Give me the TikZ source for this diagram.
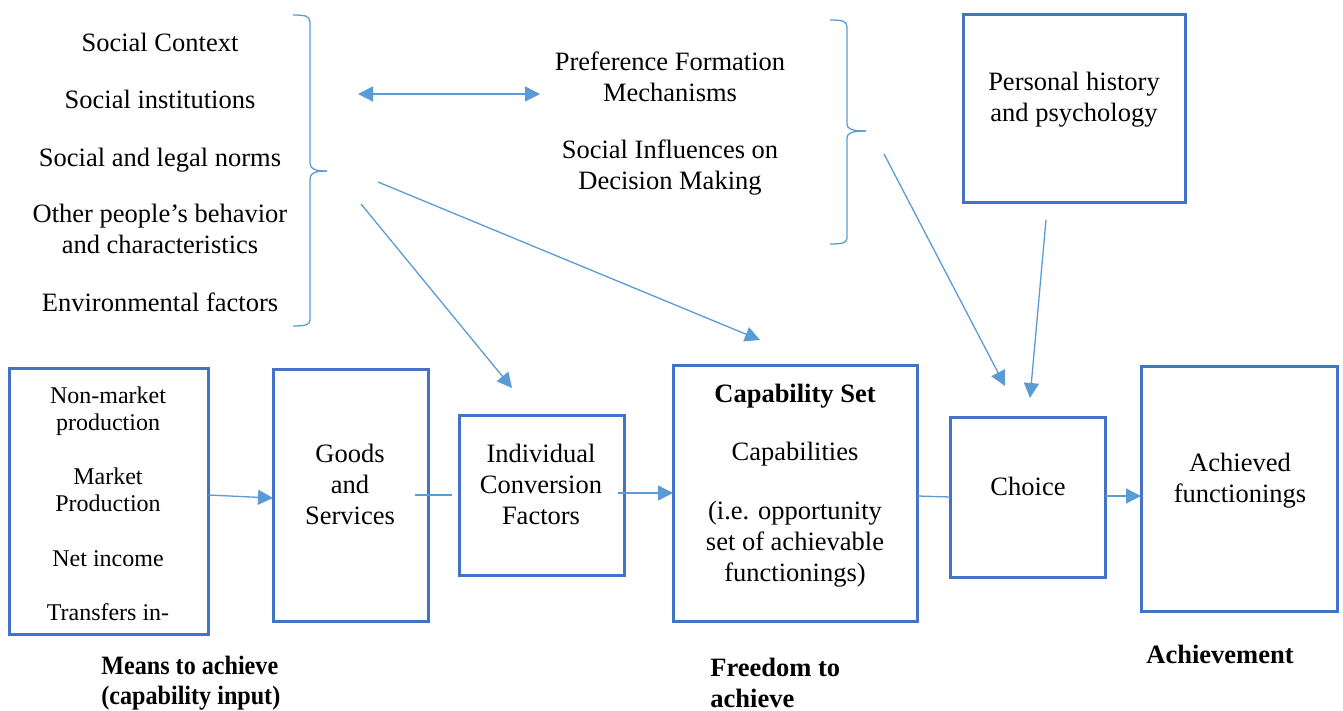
\documentclass[tikz,border=0pt]{standalone}
\usepackage{fontspec}
\setmainfont{Liberation Serif}
\usetikzlibrary{arrows.meta,fit}
\definecolor{boxblue}{HTML}{4472C4}
\definecolor{lineblue}{HTML}{5B9BD5}
% Multi-line nodes are placed by the baseline of their last line.
\tikzset{
  box/.style={draw=boxblue, line width=1.5pt, inner sep=0pt},
  txt/.style={align=center, anchor=base, inner sep=0pt,
    font=\fontsize{13.25pt}{15.5pt}\selectfont},
  smalltxt/.style={align=center, anchor=base, inner sep=0pt,
    font=\fontsize{12pt}{13.5pt}\selectfont},
  boldtxt/.style={align=left, anchor=base west, inner sep=0pt,
    font=\fontsize{13.25pt}{15pt}\selectfont\bfseries},
  conn/.style={draw=lineblue, line width=0.65pt},
  arr/.style={conn, -{Triangle[length=7.5pt,width=7.5pt]}},
  dblarr/.style={conn, {Triangle[length=7.5pt,width=7.5pt]}-{Triangle[length=7.5pt,width=7.5pt]}},
  bracepath/.style={draw=lineblue, line width=0.65pt}
}
\begin{document}
\begin{tikzpicture}[x=0.5pt,y=-0.5pt]
\useasboundingbox (0,0) rectangle (1343,711);

% Social context list
\node[txt] (sc) at (160,52) {Social Context};
\node[txt] (si) at (160,109) {Social institutions};
\node[txt] (sn) at (160,167) {Social and legal norms};
\node[txt] (op) at (160,254) {Other people’s behavior\\and characteristics};
\node[txt] (ef) at (160,311) {Environmental factors};

% Left brace
\draw[bracepath] (293,15) .. controls (305,15) and (310,16) .. (310,22) -- (310,163)
  .. controls (310,169) and (315,171) .. (327,171);
\draw[bracepath] (327,171) .. controls (315,171) and (310,173) .. (310,179) -- (310,320)
  .. controls (310,325) and (305,326) .. (293,326);

% Mechanisms
\node[txt] (pf) at (670,102) {Preference Formation\\Mechanisms};
\node[txt] (sd) at (670,190) {Social Influences on\\Decision Making};

% Right brace
\draw[bracepath] (830,20) .. controls (842,20) and (847,21) .. (847,27) -- (847,124)
  .. controls (847,129) and (852,131) .. (866,131);
\draw[bracepath] (866,131) .. controls (852,131) and (847,133) .. (847,138) -- (847,238)
  .. controls (847,243) and (842,244) .. (830,244);

% Personal history box
\node[box, fit={(963,15) (1185,203)}] (G) {};
\node[txt] (Gt) at (1074,122) {Personal history\\and psychology};

% Main row of boxes
\node[box, fit={(9,368) (208,634)}] (A) {};
\node[smalltxt] (At1) at (108,430) {Non-market\\production};
\node[smalltxt] (At2) at (108,511) {Market\\Production};
\node[smalltxt] (At3) at (108,566) {Net income};
\node[smalltxt] (At4) at (108,620) {Transfers in-};

\node[box, fit={(273,369) (428,621)}] (B) {};
\node[txt] (Bt) at (350,524) {Goods\\and\\Services};

\node[box, fit={(459,415) (624,575)}] (C) {};
\node[txt] (Ct) at (541,524) {Individual\\Conversion\\Factors};

\node[box, fit={(673,365) (917,621)}] (D) {};
\node[txt, font=\fontsize{13.25pt}{15.5pt}\selectfont\bfseries] (Dt1) at (795,402) {Capability Set};
\node[txt] (Dt2) at (795,460) {Capabilities};
\node[txt] (Dt3) at (795,581) {(i.e. opportunity\\set of achievable\\functionings)};

\node[box, fit={(950,417) (1105,577)}] (E) {};
\node[txt] (Et) at (1028,495) {Choice};

\node[box, fit={(1141,366) (1337,611)}] (F) {};
\node[txt] (Ft) at (1240,502) {Achieved\\functionings};

% Bottom labels
\node[boldtxt] (L1) at (101,704) {\scalebox{0.91}[1]{Means to achieve}\\\scalebox{0.91}[1]{(capability input)}};
\node[boldtxt, font=\fontsize{13.25pt}{15.5pt}\selectfont\bfseries] (L2) at (710,707) {Freedom to\\achieve};
\node[boldtxt] (L3) at (1146,663) {Achievement};

% Connector end points
\coordinate (d1) at (358,94);
\coordinate (d2) at (540,94);
\coordinate (s1) at (361,204);
\coordinate (t1) at (512,388);
\coordinate (s2) at (378,182);
\coordinate (t2) at (760,340);
\coordinate (s3) at (884,154);
\coordinate (t3) at (1005,386);
\coordinate (s4) at (1046,220);
\coordinate (t4) at (1030,398);
\coordinate (ab1) at (208,495);
\coordinate (ab2) at (273,498);
\coordinate (bc1) at (415,495);
\coordinate (bc2) at (452,495);
\coordinate (cd1) at (618,493);
\coordinate (cd2) at (673,493);
\coordinate (de1) at (918,496);
\coordinate (de2) at (950,497);
\coordinate (ef1) at (1105,496);
\coordinate (ef2) at (1141,496);

% Connectors
\draw[dblarr] (d1) -- (d2);
\draw[arr] (s1) -- (t1);
\draw[arr] (s2) -- (t2);
\draw[arr] (s3) -- (t3);
\draw[arr] (s4) -- (t4);
\draw[arr] (ab1) -- (ab2);
\draw[conn] (bc1) -- (bc2);
\draw[arr] (cd1) -- (cd2);
\draw[conn] (de1) -- (de2);
\draw[arr] (ef1) -- (ef2);
\end{tikzpicture}
\end{document}
